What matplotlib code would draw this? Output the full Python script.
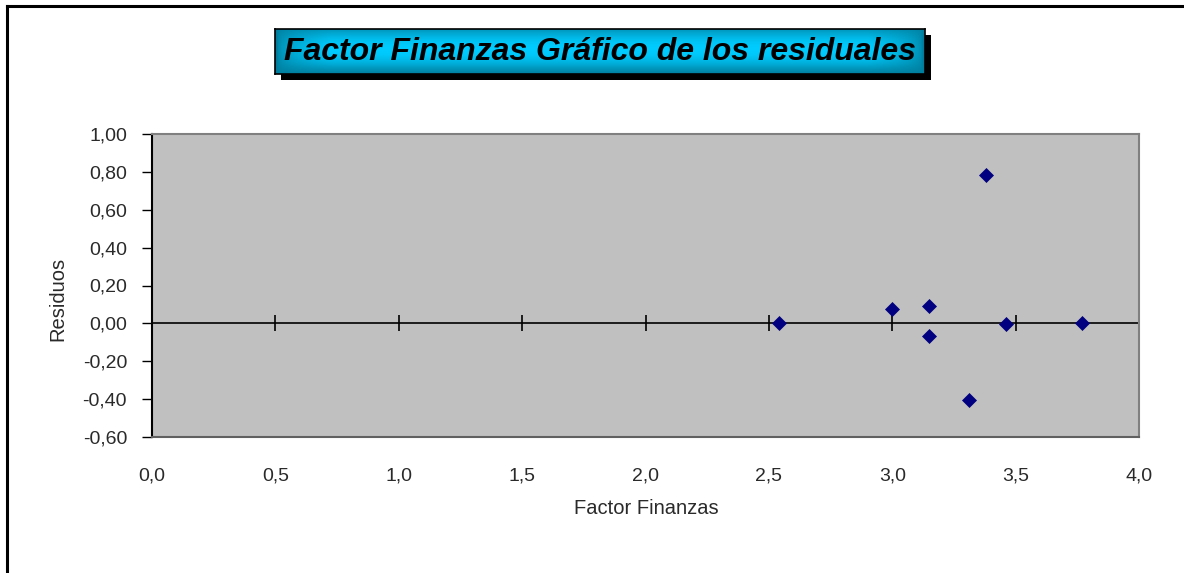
import numpy as np
import matplotlib
matplotlib.use("Agg")
import matplotlib.pyplot as plt
from matplotlib.ticker import FuncFormatter
from matplotlib.patches import Rectangle
from matplotlib.lines import Line2D

# -----------------------------
# Data
# -----------------------------
factor_finanzas = [2.54, 3.00, 3.15, 3.15, 3.38, 3.31, 3.46, 3.77]
residuos = [0.00, 0.078, 0.093, -0.067, 0.781, -0.407, -0.005, 0.00]

x_ticks = [0.0, 0.5, 1.0, 1.5, 2.0, 2.5, 3.0, 3.5, 4.0]
y_ticks = [-0.60, -0.40, -0.20, 0.00, 0.20, 0.40, 0.60, 0.80, 1.00]

title = "Factor Finanzas Gráfico de los residuales"
x_label = "Factor Finanzas"
y_label = "Residuos"

W, H = 1184, 573
plt.rcParams['font.family'] = ['Liberation Sans', 'DejaVu Sans']
TXT = "#2a2a2a"

fig = plt.figure(figsize=(W / 100, H / 100), dpi=100)
fig.patch.set_facecolor("white")

def fx(px):
    return px / W

def fy(py):
    return 1 - py / H

# -----------------------------
# Outer chart border
# -----------------------------
fig.add_artist(Line2D([fx(7), fx(7)], [fy(6), 0], color="black", lw=2.2, transform=fig.transFigure))
fig.add_artist(Line2D([fx(7), 1], [fy(6), fy(6)], color="black", lw=2.2, transform=fig.transFigure))

# -----------------------------
# Plot area
# -----------------------------
left, right, top, bottom = 152, 1139, 134, 437
ax = fig.add_axes([fx(left), fy(bottom), fx(right - left), fy(top) - fy(bottom)])
ax.set_facecolor("#C0C0C0")
ax.set_xlim(x_ticks[0], x_ticks[-1])
ax.set_ylim(y_ticks[0], y_ticks[-1])

for s in ["top", "right"]:
    ax.spines[s].set_color("#808080")
    ax.spines[s].set_linewidth(1.5)
ax.spines["bottom"].set_color("#606060")
ax.spines["bottom"].set_linewidth(1.5)
ax.spines["left"].set_color("black")
ax.spines["left"].set_linewidth(1.5)

ax.set_yticks(y_ticks)
ax.yaxis.set_major_formatter(FuncFormatter(lambda v, p: f"{v:.2f}".replace(".", ",")))
ax.set_xticks(x_ticks)
ax.xaxis.set_major_formatter(FuncFormatter(lambda v, p: f"{v:.1f}".replace(".", ",")))
ax.tick_params(axis="y", direction="out", length=7, width=1, pad=11, labelsize=14, colors="black")
ax.tick_params(axis="x", length=0, pad=22, labelsize=14, colors="black")
for lab in ax.get_xticklabels() + ax.get_yticklabels():
    lab.set_color(TXT)

# zero axis line with crossing ticks
ax.axhline(0, color="black", lw=1.2, zorder=2)
ax.plot(x_ticks[1:], [0] * len(x_ticks[1:]), ls="none", marker="|", ms=11, mew=1.2,
        color="black", zorder=2, clip_on=False)

ax.plot(factor_finanzas, residuos, ls="none", marker="D", ms=7.2, color="#000080",
        mec="#000080", mew=0.5, zorder=3)

fig.text(fx(646), fy(508), x_label, ha="center", va="center", fontsize=14.5, color=TXT)
fig.text(fx(58), fy(299), y_label, ha="center", va="center", rotation=90, fontsize=14.5, color=TXT)

# -----------------------------
# Title box with shadow + gradient
# -----------------------------
bx0, bx1, by0, by1 = 275, 925, 29, 74
fig.add_artist(Rectangle((fx(bx0 + 6), fy(by1 + 6)), fx(bx1 - bx0), fy(by0) - fy(by1),
                         transform=fig.transFigure, facecolor="black", edgecolor="none", zorder=1))
tax = fig.add_axes([fx(bx0), fy(by1), fx(bx1 - bx0), fy(by0) - fy(by1)], zorder=2)
gx = np.linspace(0, 1, 200)[None, :]
gy = np.linspace(0, 1, 40)[:, None]
shade = 0.62 + 0.38 * np.sin(np.pi * np.clip(gy * 0.9 + 0.1, 0, 1)) * np.clip(np.minimum(gx, 1 - gx) * 12, 0, 1) ** 0.5
shade = np.clip(shade, 0.5, 1)
base = np.array([0.0, 0.80, 1.0])
img = shade[..., None] * base[None, None, :]
tax.imshow(img, aspect="auto", extent=[0, 1, 0, 1], origin="upper")
tax.set_xticks([])
tax.set_yticks([])
for s in tax.spines.values():
    s.set_color("black")
    s.set_linewidth(1.2)
tax.text(0.5, 0.5, title, ha="center", va="center", fontsize=23, fontweight="bold",
         fontstyle="italic", color="black", transform=tax.transAxes)

fig.savefig("out.png", dpi=100, facecolor="white")
